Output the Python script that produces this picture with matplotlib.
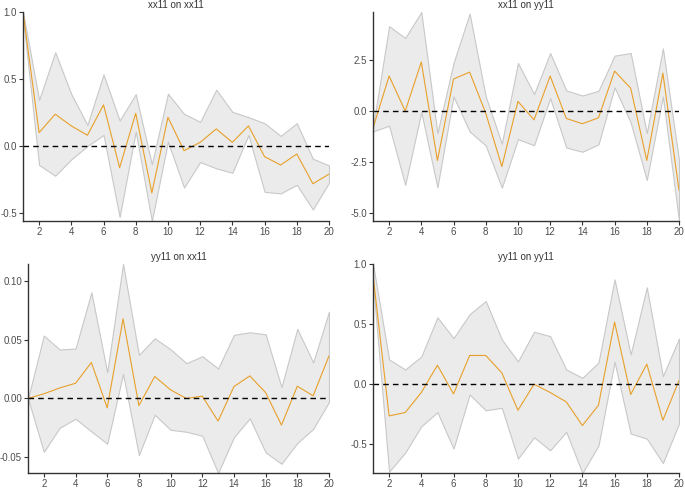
import numpy as np
import matplotlib
matplotlib.use('Agg')
import matplotlib.pyplot as plt

plt.rcParams['font.family'] = ['Liberation Sans', 'DejaVu Sans']
plt.rcParams['axes.unicode_minus'] = False

# horizons
h = list(range(1, 21))

# xx11 on xx11
irf_xx_xx = [1.0, 0.10, 0.237, 0.15, 0.08, 0.307, -0.162, 0.244, -0.35, 0.214,
             -0.035, 0.027, 0.127, 0.027, 0.15, -0.08, -0.142, -0.06, -0.282, -0.21]
up_xx_xx = [1.0, 0.344, 0.70, 0.387, 0.157, 0.534, 0.19, 0.387, -0.137, 0.39,
            0.24, 0.18, 0.42, 0.255, 0.215, 0.17, 0.075, 0.17, -0.095, -0.145]
lo_xx_xx = [0.96, -0.142, -0.222, -0.10, 0.0, 0.082, -0.53, 0.107, -0.56, 0.032,
            -0.31, -0.12, -0.167, -0.2, 0.082, -0.342, -0.354, -0.29, -0.474, -0.274]

# xx11 on yy11
irf_xx_yy = [-0.84, 1.73, 0.0, 2.42, -2.43, 1.58, 1.92, -0.1, -2.73, 0.48,
             -0.43, 1.73, -0.36, -0.62, -0.33, 1.97, 1.13, -2.43, 1.87, -3.9]
up_xx_yy = [-0.8, 4.18, 3.6, 4.88, -1.08, 2.37, 4.8, 0.72, -1.6, 2.37,
            0.84, 2.86, 1.02, 0.77, 1.0, 2.73, 2.86, -1.08, 3.09, -2.4]
lo_xx_yy = [-1.0, -0.72, -3.63, -0.05, -3.75, 0.72, -1.0, -1.69, -3.77, -1.38,
            -1.68, 0.64, -1.79, -2.0, -1.64, 1.17, -0.56, -3.39, 0.72, -5.41]

# yy11 on xx11
irf_yy_xx = [0.0, 0.004, 0.009, 0.013, 0.0307, -0.008, 0.068, -0.006, 0.0188, 0.0074,
             0.0, 0.002, -0.0193, 0.0102, 0.0193, 0.005, -0.0227, 0.0105, 0.0023, 0.0364]
up_yy_xx = [0.0, 0.0537, 0.0418, 0.0426, 0.0906, 0.0224, 0.1148, 0.0372, 0.0514, 0.042,
            0.0301, 0.0361, 0.0256, 0.0543, 0.0565, 0.0548, 0.0097, 0.0594, 0.0307, 0.0741]
lo_yy_xx = [0.0, -0.0455, -0.025, -0.0173, -0.0281, -0.0386, 0.021, -0.0483, -0.0139, -0.0267,
            -0.0284, -0.0318, -0.0636, -0.033, -0.017, -0.046, -0.0557, -0.038, -0.026, -0.003]

# yy11 on yy11
irf_yy_yy = [0.91, -0.264, -0.236, -0.069, 0.158, -0.081, 0.239, 0.239, 0.094, -0.217,
             0.0, -0.069, -0.147, -0.344, -0.175, 0.517, -0.086, 0.167, -0.3, 0.03]
up_yy_yy = [1.0, 0.206, 0.122, 0.23, 0.556, 0.383, 0.583, 0.692, 0.372, 0.189,
            0.436, 0.4, 0.122, 0.053, 0.18, 0.872, 0.247, 0.806, 0.067, 0.38]
lo_yy_yy = [0.85, -0.728, -0.569, -0.35, -0.233, -0.536, -0.086, -0.217, -0.197, -0.619,
            -0.442, -0.55, -0.397, -0.739, -0.511, 0.186, -0.411, -0.453, -0.656, -0.328]

titles = ['xx11 on xx11', 'xx11 on yy11', 'yy11 on xx11', 'yy11 on yy11']
irfs = [irf_xx_xx, irf_xx_yy, irf_yy_xx, irf_yy_yy]
ups = [up_xx_xx, up_xx_yy, up_yy_xx, up_yy_yy]
los = [lo_xx_xx, lo_xx_yy, lo_yy_xx, lo_yy_yy]
yticks = [[-0.5, 0.0, 0.5, 1.0], [-5.0, -2.5, 0.0, 2.5],
          [-0.05, 0.0, 0.05, 0.10], [-0.5, 0.0, 0.5, 1.0]]
yfmt = ['{:.1f}', '{:.1f}', '{:.2f}', '{:.1f}']

# axes boxes in pixels (left, right, top, bottom) on 685x488
W, H = 685, 488
boxes = [(23, 329, 12, 221), (373, 679, 12, 221),
         (28, 329, 264, 473), (373, 679, 264, 473)]

fig = plt.figure(figsize=(W / 100, H / 100), dpi=100)
for i in range(4):
    l, r, t, b = boxes[i]
    ax = fig.add_axes([l / W, 1 - b / H, (r - l) / W, (b - t) / H])
    ax.fill_between(h, los[i], ups[i], facecolor='#ebebeb', edgecolor='#c8c8c8', linewidth=0.8)
    ax.plot(h, irfs[i], color='#e8a02a', linewidth=0.8)
    ax.axhline(0, color='black', linestyle=(0, (4, 3)), linewidth=1.0)
    ax.set_xlim(1, 20)
    ax.set_ylim(min(los[i]), max(ups[i]))
    ax.set_xticks(range(2, 21, 2))
    ax.set_yticks(yticks[i])
    ax.set_yticklabels([yfmt[i].format(v) for v in yticks[i]])
    for s in ['top', 'right']:
        ax.spines[s].set_visible(False)
    for s in ['left', 'bottom']:
        ax.spines[s].set_color('#333333')
        ax.spines[s].set_linewidth(1.0)
    ax.tick_params(colors='#333333', labelcolor='#4d4d4d', labelsize=7, length=3, width=0.8, pad=1.3)
    ax.set_title(titles[i], fontsize=7, color='#333333', pad=3)

fig.savefig('out.png', dpi=100)
